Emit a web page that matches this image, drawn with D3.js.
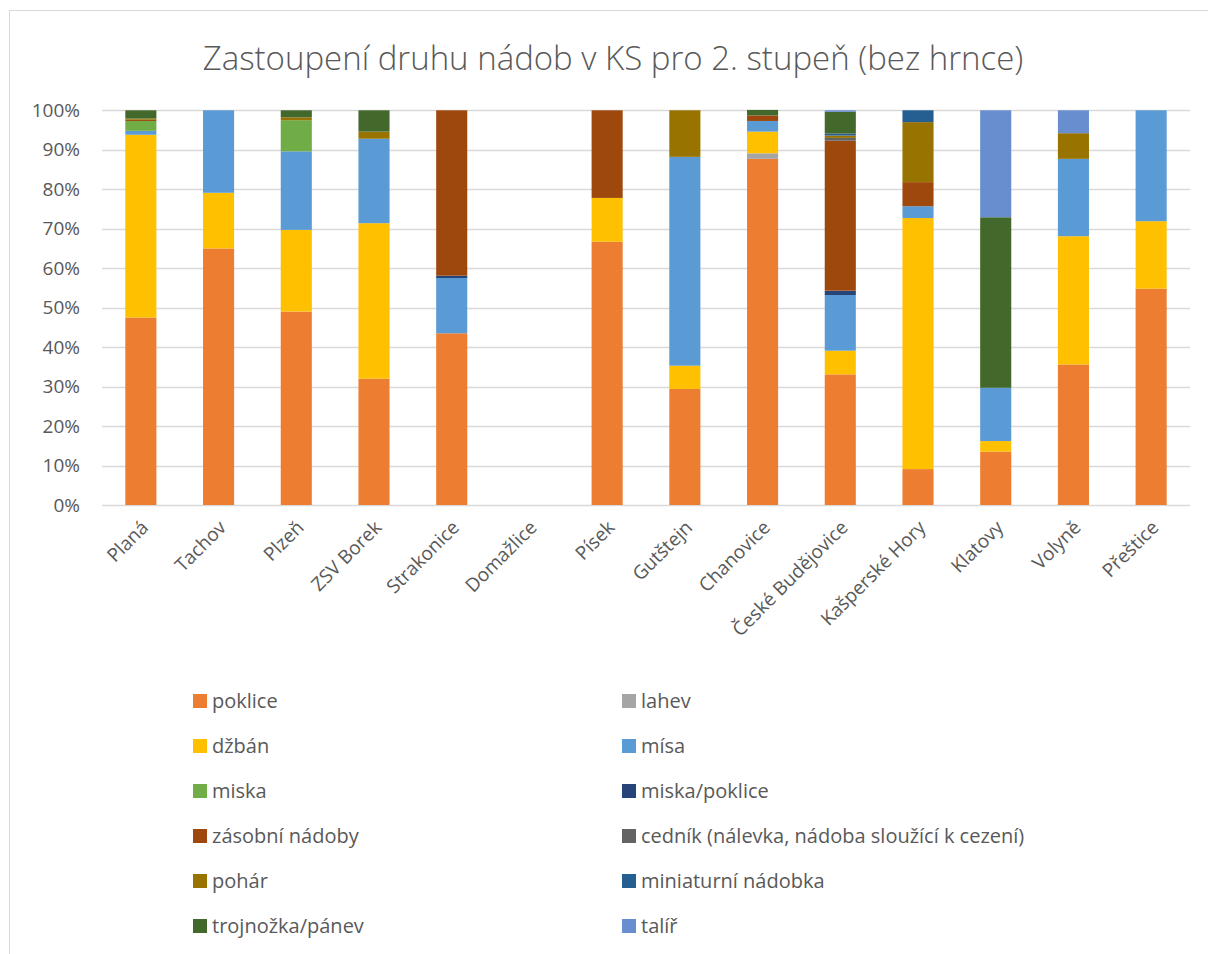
<!DOCTYPE html>
<html>
<head>
<meta charset="utf-8">
<script src="https://cdn.jsdelivr.net/npm/d3@7"></script>
<style>
  html, body { margin: 0; padding: 0; background: #fff; }
  svg { display: block; }
  text { font-family: "Open Sans", "Noto Sans", sans-serif; fill: #595959; }
</style>
</head>
<body>
<svg id="chart" width="1208" height="954"></svg>
<script>
const title = "Zastoupení druhu nádob v KS pro 2. stupeň (bez hrnce)";
const categories = ["Planá", "Tachov", "Plzeň", "ZSV Borek", "Strakonice", "Domažlice", "Písek", "Gutštejn", "Chanovice", "České Budějovice", "Kašperské Hory", "Klatovy", "Volyně", "Přeštice"];
const seriesNames = ["poklice", "lahev", "džbán", "mísa", "miska", "miska/poklice", "zásobní nádoby", "cedník (nálevka, nádoba sloužící k cezení)", "pohár", "miniaturní nádobka", "trojnožka/pánev", "talíř"];
const seriesColors = ["#ED7D31", "#A5A5A5", "#FFC000", "#5B9BD5", "#70AD47", "#264478", "#9E480E", "#636363", "#997300", "#255E91", "#43682B", "#698ED0"];
const yTicks = [0, 10, 20, 30, 40, 50, 60, 70, 80, 90, 100];

// values in % per category
const poklice      = [47.5, 65.0, 49.0, 32.0, 43.5, 0, 66.7, 29.4, 87.7, 33.1, 9.1, 13.5, 35.6, 54.8];
const lahev        = [0, 0, 0, 0, 0, 0, 0, 0, 1.4, 0, 0, 0, 0, 0];
const dzban        = [46.3, 14.1, 20.7, 39.4, 0, 0, 11.1, 5.9, 5.5, 6.0, 63.6, 2.7, 32.5, 17.1];
const misa         = [1.0, 20.9, 19.9, 21.4, 14.0, 0, 0, 52.9, 2.7, 14.1, 3.0, 13.5, 19.6, 28.1];
const miska        = [2.5, 0, 7.9, 0, 0, 0, 0, 0, 0, 0, 0, 0, 0, 0];
const miskaPoklice = [0, 0, 0, 0, 0.6, 0, 0, 0, 0, 1.1, 0, 0, 0, 0];
const zasobni      = [0.3, 0, 0, 0, 41.9, 0, 22.2, 0, 1.4, 38.0, 6.1, 0, 0, 0];
const cednik       = [0, 0, 0, 0, 0, 0, 0, 0, 0, 0.7, 0, 0, 0, 0];
const pohar        = [0.3, 0, 0.7, 1.8, 0, 0, 0, 11.8, 0, 0.6, 15.2, 0, 6.5, 0];
const miniaturni   = [0, 0, 0, 0, 0, 0, 0, 0, 0, 0.5, 3.0, 0, 0, 0];
const trojnozka    = [2.1, 0, 1.8, 5.4, 0, 0, 0, 0, 1.4, 5.5, 0, 43.2, 0, 0];
const talir        = [0, 0, 0, 0, 0, 0, 0, 0, 0, 0.4, 0, 27.1, 5.8, 0];

const seriesValues = [poklice, lahev, dzban, misa, miska, miskaPoklice, zasobni, cednik, pohar, miniaturni, trojnozka, talir];

const rows = categories.map((c, i) => {
  const r = { cat: c };
  seriesNames.forEach((s, k) => r[s] = seriesValues[k][i]);
  return r;
});

const svg = d3.select("#chart");

// chart frame
svg.append("rect").attr("x", 9.5).attr("y", 10.5).attr("width", 1400).attr("height", 1200)
  .attr("fill", "#fff").attr("stroke", "#d9d9d9").attr("stroke-width", 1);

const plot = { left: 102, right: 1190, top: 110.3, bottom: 505 };

const x = d3.scaleBand().domain(categories).range([plot.left, plot.right]).paddingInner(0.6).paddingOuter(0.3);
const y = d3.scaleLinear().domain([0, 100]).range([plot.bottom, plot.top]);

// title
svg.append("text").attr("x", 613).attr("y", 70).attr("text-anchor", "middle")
  .style("font-size", "33px").style("font-weight", 300).text(title);

// gridlines
svg.append("g").selectAll("line").data(yTicks).join("line")
  .attr("x1", plot.left).attr("x2", plot.right)
  .attr("y1", d => Math.round(y(d)) + 0.5).attr("y2", d => Math.round(y(d)) + 0.5)
  .attr("stroke", "#d9d9d9").attr("stroke-width", 1.3);

// y axis labels
const yAxis = d3.axisLeft(y).tickValues(yTicks).tickFormat(d => d + "%").tickSize(0).tickPadding(0);
const yg = svg.append("g").attr("transform", `translate(80,0)`).call(yAxis);
yg.select(".domain").remove();
yg.selectAll("text").style("font-size", "19px").attr("fill", "#595959")
  .style("font-family", "'Open Sans', sans-serif");

// stacked bars
const stack = d3.stack().keys(seriesNames);
const stacked = stack(rows);
svg.append("g").selectAll("g").data(stacked).join("g")
  .attr("fill", (d, i) => seriesColors[i])
  .selectAll("rect").data(d => d).join("rect")
  .attr("x", d => x(d.data.cat))
  .attr("width", x.bandwidth())
  .attr("y", d => y(d[1]))
  .attr("height", d => Math.max(0, y(d[0]) - y(d[1])));

// x axis labels
const xAxis = d3.axisBottom(x).tickSize(0).tickPadding(0);
const xg = svg.append("g").attr("transform", `translate(0,${plot.bottom})`).call(xAxis);
xg.select(".domain").remove();
xg.selectAll("text")
  .style("font-size", "19px").attr("fill", "#595959")
  .style("font-family", "'Open Sans', sans-serif")
  .attr("text-anchor", "end")
  .attr("dy", "0.35em")
  .attr("transform", "translate(4,19) rotate(-45)")
  .attr("x", 0).attr("y", 0);

// legend
const legendItems = seriesNames.map((s, i) => ({ name: s, color: seriesColors[i], col: i % 2, row: Math.floor(i / 2) }));
const legendX = [193, 622];
const legendY0 = 701, legendDY = 45;
const lg = svg.append("g").selectAll("g").data(legendItems).join("g")
  .attr("transform", d => `translate(${legendX[d.col]},${legendY0 + d.row * legendDY})`);
lg.append("rect").attr("x", 0).attr("y", -7).attr("width", 14).attr("height", 14).attr("fill", d => d.color);
lg.append("text").attr("x", 19).attr("y", 0).attr("dy", "0.35em").style("font-size", "20px").text(d => d.name);
</script>
</body>
</html>
